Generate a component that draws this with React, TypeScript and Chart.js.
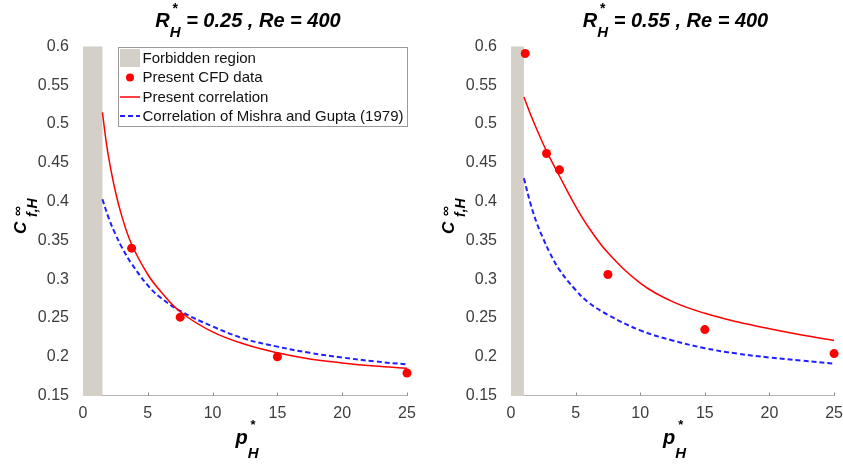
import React, { useEffect, useRef } from 'react';
import { Chart, registerables } from 'chart.js';

Chart.register(...registerables);

// ---------- data ----------
const xTicks = [0, 5, 10, 15, 20, 25];
const xTickLabels = ['0', '5', '10', '15', '20', '25'];
const yTicks = [0.15, 0.2, 0.25, 0.3, 0.35, 0.4, 0.45, 0.5, 0.55, 0.6];
const yTickLabels = ['0.15', '0.2', '0.25', '0.3', '0.35', '0.4', '0.45', '0.5', '0.55', '0.6'];

const legendLabels = [
  'Forbidden region',
  'Present CFD data',
  'Present correlation',
  'Correlation of Mishra and Gupta (1979)',
];

const reValue = '400';

// Left panel: R*_H = 0.25
const leftRH = '0.25';
const leftForbidden = [0, 1.5];
const leftCfdX = [3.75, 7.5, 15, 25];
const leftCfdY = [0.34, 0.251, 0.2, 0.179];
const leftCorrX = [1.5, 1.75, 2, 2.5, 3, 3.75, 5, 6, 7.5, 10, 12.5, 15, 17.5, 20, 22.5, 25];
const leftCorrY = [0.515, 0.482, 0.455, 0.413, 0.381, 0.345, 0.306, 0.284, 0.258, 0.232, 0.216, 0.205, 0.197, 0.192, 0.188, 0.185];
const leftMishraX = [1.5, 2, 2.5, 3, 3.75, 5, 6, 7.5, 10, 12.5, 15, 17.5, 20, 22.5, 25];
const leftMishraY = [0.403, 0.378, 0.358, 0.341, 0.32, 0.292, 0.276, 0.259, 0.239, 0.223, 0.213, 0.205, 0.199, 0.194, 0.19];

// Right panel: R*_H = 0.55
const rightRH = '0.55';
const rightForbidden = [0, 1.0];
const rightCfdX = [1.1, 2.75, 3.75, 7.5, 15, 25];
const rightCfdY = [0.591, 0.462, 0.441, 0.306, 0.235, 0.204];
const rightCorrX = [1.0, 1.5, 2, 2.75, 3.75, 5, 6, 7.5, 10, 12.5, 15, 17.5, 20, 22.5, 25];
const rightCorrY = [0.535, 0.513, 0.493, 0.465, 0.433, 0.394, 0.367, 0.334, 0.295, 0.271, 0.256, 0.245, 0.236, 0.228, 0.221];
const rightMishraX = [1.0, 1.5, 2, 2.5, 3, 3.75, 5, 6, 7.5, 10, 12.5, 15, 17.5, 20, 22.5, 25];
const rightMishraY = [0.43, 0.398, 0.372, 0.352, 0.334, 0.312, 0.286, 0.27, 0.254, 0.234, 0.221, 0.211, 0.204, 0.199, 0.195, 0.191];

// ---------- styles ----------
const FONT = "'Liberation Sans', Arial, Helvetica, sans-serif";
const FORBID = '#d4cfc7';
const RED = '#ff0000';
const BLUE = '#1f1fff';
const TICK_COLOR = '#3c3c3c';

type PanelCfg = {
  key: string;
  rh: string;
  forbidden: number[];
  cfdX: number[];
  cfdY: number[];
  corrX: number[];
  corrY: number[];
  mishraX: number[];
  mishraY: number[];
  showLegend: boolean;
  width: number;
  yAxisWidth: number;
  padRight: number;
};

const toPts = (xs: number[], ys: number[]) => xs.map((x, i) => ({ x, y: ys[i] }));

function drawComposite(
  ctx: CanvasRenderingContext2D,
  cx: number,
  baseline: number,
  base: string,
  sup: string,
  sub: string,
  rest: string,
  baseSize: number,
  supSize: number,
  subSize: number,
  supBaseline: number,
  subBaseline: number
) {
  const bf = `italic bold ${baseSize}px ${FONT}`;
  const sf = `bold ${supSize}px ${FONT}`;
  const subf = `italic bold ${subSize}px ${FONT}`;
  ctx.font = bf;
  const wb = ctx.measureText(base).width;
  const wr = rest ? ctx.measureText(rest).width : 0;
  ctx.font = sf;
  const wsup = ctx.measureText(sup).width;
  ctx.font = subf;
  const wsub = ctx.measureText(sub).width;
  const wmid = Math.max(wsup, wsub);
  const total = wb + wmid + wr;
  let x = cx - total / 2;
  ctx.textAlign = 'left';
  ctx.textBaseline = 'alphabetic';
  ctx.fillStyle = '#000';
  ctx.font = bf;
  ctx.fillText(base, x, baseline);
  x += wb;
  ctx.font = sf;
  ctx.fillText(sup, x + (wsub - wsup) / 2, supBaseline);
  ctx.font = subf;
  ctx.fillText(sub, x, subBaseline);
  x += wmid;
  if (rest) {
    ctx.font = bf;
    ctx.fillText(rest, x, baseline);
  }
}

function makePlugin(cfg: PanelCfg) {
  return {
    id: 'custom_' + cfg.key,
    beforeDatasetsDraw(chart: any) {
      const { ctx, chartArea, scales } = chart;
      const xs = scales.x;
      ctx.save();
      const x0 = xs.getPixelForValue(cfg.forbidden[0]);
      const x1 = xs.getPixelForValue(cfg.forbidden[1]);
      ctx.fillStyle = FORBID;
      ctx.fillRect(x0, chartArea.top, x1 - x0, chartArea.bottom - chartArea.top + 0.5);
      // small inward tick marks on x axis
      ctx.strokeStyle = '#8c8c8c';
      ctx.lineWidth = 1;
      xTicks.forEach((v) => {
        if (v <= cfg.forbidden[1]) return;
        const px = Math.round(xs.getPixelForValue(v)) + 0.5;
        ctx.beginPath();
        ctx.moveTo(px, chartArea.bottom);
        ctx.lineTo(px, chartArea.bottom - 3);
        ctx.stroke();
      });
      ctx.restore();
    },
    afterDraw(chart: any) {
      const { ctx, chartArea } = chart;
      const cx = (chartArea.left + chartArea.right) / 2;
      ctx.save();
      // title
      drawComposite(ctx, cx + 3, 27, 'R', '*', 'H', ` = ${cfg.rh} , Re = ${reValue}`, 20, 14, 15, 13, 37);
      // x label
      drawComposite(ctx, cx + 2, 444, 'p', '*', 'H', '', 20, 13, 15, 429, 458);
      // y label (rotated)
      ctx.save();
      ctx.translate(chartArea.left - 56, 216);
      ctx.rotate(-Math.PI / 2);
      ctx.fillStyle = '#000';
      ctx.textAlign = 'left';
      ctx.textBaseline = 'alphabetic';
      ctx.font = `italic bold 17px ${FONT}`;
      ctx.fillText('C', -18, -1);
      ctx.font = `bold 14px ${FONT}`;
      ctx.fillText('\u221E', 0, -5);
      ctx.font = `italic bold 14px ${FONT}`;
      ctx.fillText('f,H', -1, 10);
      ctx.restore();

      if (cfg.showLegend) {
        const lx = chartArea.left + 35;
        const rx = chartArea.right;
        const ty = chartArea.top;
        const by = 125;
        ctx.fillStyle = '#fff';
        ctx.fillRect(lx, ty, rx - lx, by - ty);
        ctx.strokeStyle = '#9a9a9a';
        ctx.lineWidth = 1;
        ctx.strokeRect(Math.round(lx) + 0.5, Math.round(ty) + 0.5, Math.round(rx - lx), Math.round(by - ty));
        const rows = [58, 77.5, 97, 116];
        const sx0 = lx + 2;
        const sx1 = lx + 22;
        ctx.fillStyle = FORBID;
        ctx.fillRect(sx0, rows[0] - 9, 20, 18);
        ctx.fillStyle = RED;
        ctx.beginPath();
        ctx.arc((sx0 + sx1) / 2, rows[1], 4, 0, Math.PI * 2);
        ctx.fill();
        ctx.strokeStyle = RED;
        ctx.lineWidth = 1.5;
        ctx.beginPath();
        ctx.moveTo(sx0, rows[2]);
        ctx.lineTo(sx1, rows[2]);
        ctx.stroke();
        ctx.strokeStyle = BLUE;
        ctx.lineWidth = 2;
        ctx.setLineDash([5, 3]);
        ctx.beginPath();
        ctx.moveTo(sx0, rows[3]);
        ctx.lineTo(sx1, rows[3]);
        ctx.stroke();
        ctx.setLineDash([]);
        ctx.fillStyle = '#111';
        ctx.font = `15px ${FONT}`;
        ctx.textAlign = 'left';
        ctx.textBaseline = 'middle';
        legendLabels.forEach((t, i) => ctx.fillText(t, lx + 24.5, rows[i] + 0.5));
      }
      ctx.restore();
    },
  };
}

function Panel({ cfg, left }: { cfg: PanelCfg; left: number }) {
  const ref = useRef<HTMLCanvasElement | null>(null);
  useEffect(() => {
    if (!ref.current) return;
    const chart = new Chart(ref.current, {
      type: 'scatter',
      data: {
        datasets: [
          {
            label: 'Present correlation',
            data: toPts(cfg.corrX, cfg.corrY),
            showLine: true,
            borderColor: RED,
            borderWidth: 1.5,
            pointRadius: 0,
            tension: 0.4,
            fill: false,
          } as any,
          {
            label: 'Correlation of Mishra and Gupta (1979)',
            data: toPts(cfg.mishraX, cfg.mishraY),
            showLine: true,
            borderColor: BLUE,
            borderWidth: 2,
            borderDash: [5, 3],
            pointRadius: 0,
            tension: 0.4,
            fill: false,
          } as any,
          {
            label: 'Present CFD data',
            data: toPts(cfg.cfdX, cfg.cfdY),
            showLine: false,
            pointRadius: 4.5,
            pointBackgroundColor: RED,
            pointBorderColor: RED,
            pointBorderWidth: 0,
            clip: false,
          } as any,
        ],
      },
      options: {
        animation: false,
        responsive: false,
        layout: { padding: { left: 0, right: cfg.padRight, top: 46.5, bottom: 0 }, autoPadding: false } as any,
        plugins: { legend: { display: false }, tooltip: { enabled: false }, title: { display: false } },
        scales: {
          x: {
            type: 'linear',
            min: 0,
            max: 25,
            afterBuildTicks: (s: any) => {
              s.ticks = xTicks.map((v) => ({ value: v }));
            },
            afterFit: (s: any) => {
              s.height = 464 - 395.5;
            },
            ticks: {
              autoSkip: false,
              maxRotation: 0,
              padding: 0,
              color: TICK_COLOR,
              font: { size: 16, family: FONT },
              callback: (v: any) => xTickLabels[xTicks.indexOf(Number(v))] ?? '',
            },
            grid: { display: false },
            border: { display: true, color: '#b5b5b5', width: 1 },
          },
          y: {
            type: 'linear',
            min: 0.15,
            max: 0.6,
            afterBuildTicks: (s: any) => {
              s.ticks = yTicks.map((v) => ({ value: v }));
            },
            afterFit: (s: any) => {
              s.width = cfg.yAxisWidth;
            },
            ticks: {
              autoSkip: false,
              padding: 6,
              color: TICK_COLOR,
              font: { size: 16, family: FONT },
              callback: (v: any) => {
                const i = yTicks.findIndex((t) => Math.abs(t - Number(v)) < 1e-6);
                return i >= 0 ? yTickLabels[i] : '';
              },
            },
            grid: { display: false },
            border: { display: false },
          },
        },
      } as any,
      plugins: [makePlugin(cfg) as any],
    });
    return () => chart.destroy();
  }, [cfg]);
  return (
    <canvas
      ref={ref}
      width={cfg.width}
      height={464}
      style={{ position: 'absolute', left, top: 0, width: cfg.width, height: 464 }}
    />
  );
}

const leftCfg: PanelCfg = {
  key: 'left',
  rh: leftRH,
  forbidden: leftForbidden,
  cfdX: leftCfdX,
  cfdY: leftCfdY,
  corrX: leftCorrX,
  corrY: leftCorrY,
  mishraX: leftMishraX,
  mishraY: leftMishraY,
  showLegend: true,
  width: 421,
  yAxisWidth: 83,
  padRight: 14,
};

const rightCfg: PanelCfg = {
  key: 'right',
  rh: rightRH,
  forbidden: rightForbidden,
  cfdX: rightCfdX,
  cfdY: rightCfdY,
  corrX: rightCorrX,
  corrY: rightCorrY,
  mishraX: rightMishraX,
  mishraY: rightMishraY,
  showLegend: false,
  width: 422,
  yAxisWidth: 90,
  padRight: 8,
};

export default function App() {
  return (
    <div style={{ position: 'absolute', left: 0, top: 0, width: 843, height: 464, background: '#fff' }}>
      <Panel cfg={leftCfg} left={0} />
      <Panel cfg={rightCfg} left={421} />
    </div>
  );
}
